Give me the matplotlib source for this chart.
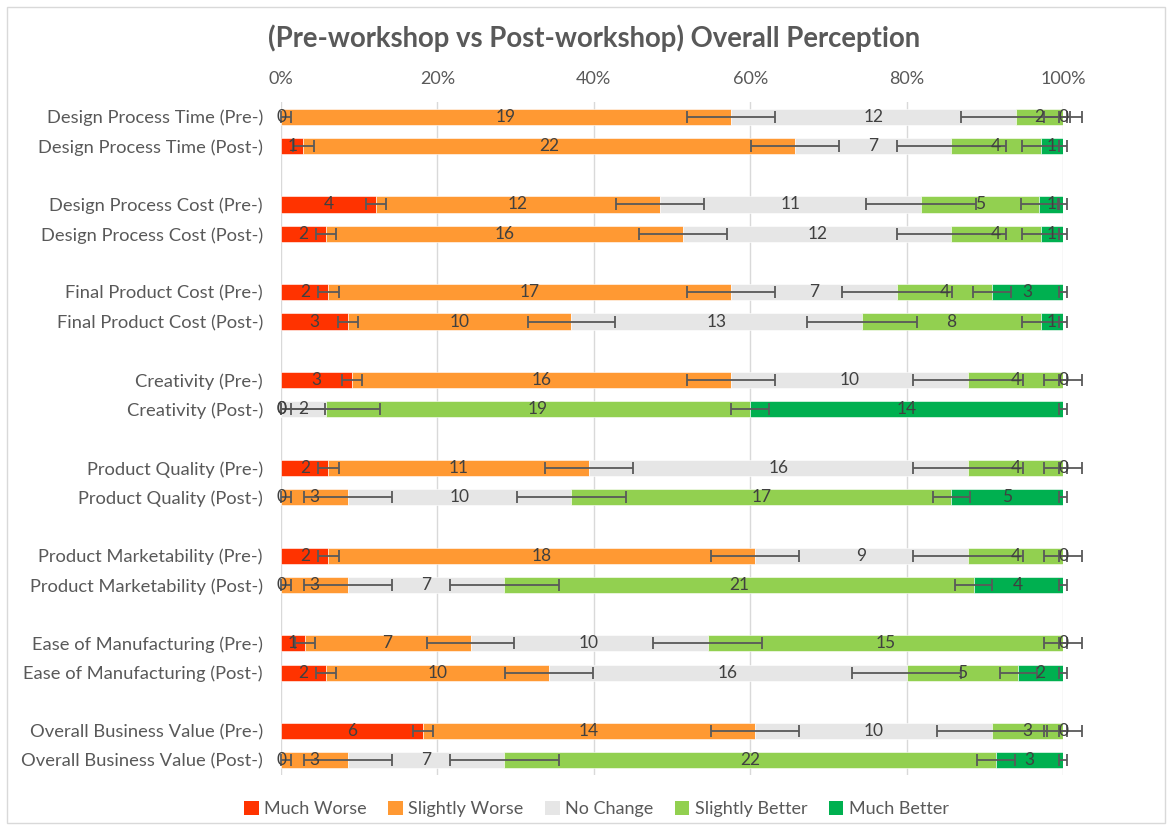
import matplotlib
matplotlib.use("Agg")
import matplotlib.pyplot as plt
from matplotlib.patches import Rectangle, Patch
import numpy as np

plt.rcParams['font.family'] = ['Lato', 'DejaVu Sans']

labels = [
    "Design Process Time (Pre-)", "Design Process Time (Post-)",
    "Design Process Cost (Pre-)", "Design Process Cost (Post-)",
    "Final Product Cost (Pre-)", "Final Product Cost (Post-)",
    "Creativity (Pre-)", "Creativity (Post-)",
    "Product Quality (Pre-)", "Product Quality (Post-)",
    "Product Marketability (Pre-)", "Product Marketability (Post-)",
    "Ease of Manufacturing (Pre-)", "Ease of Manufacturing (Post-)",
    "Overall Business Value (Pre-)", "Overall Business Value (Post-)",
]
much_worse = [0, 1, 4, 2, 2, 3, 3, 0, 2, 0, 2, 0, 1, 2, 6, 0]
slightly_worse = [19, 22, 12, 16, 17, 10, 16, 0, 11, 3, 18, 3, 7, 10, 14, 3]
no_change = [12, 7, 11, 12, 7, 13, 10, 2, 16, 10, 9, 7, 10, 16, 10, 7]
slightly_better = [2, 4, 5, 4, 4, 8, 4, 19, 4, 17, 4, 21, 15, 5, 3, 22]
much_better = [0, 1, 1, 1, 3, 1, 0, 14, 0, 5, 0, 4, 0, 2, 0, 3]
series_names = ["Much Worse", "Slightly Worse", "No Change", "Slightly Better", "Much Better"]
# error bar half-widths (percentage points), one per series
error_pct = [1.3, 5.6, 7.0, 2.4, 0.5]

colors = ["#FF3300", "#FF9933", "#E6E6E6", "#92D050", "#00B050"]
text_col = "#595959"

series = [much_worse, slightly_worse, no_change, slightly_better, much_better]
counts = np.array(series, dtype=float)
totals = counts.sum(axis=0)
pct = counts / totals * 100

n = len(labels)
pos = np.array([(i // 2) * 3 + (i % 2) for i in range(n)])

fig = plt.figure(figsize=(11.72, 8.30), dpi=100)
ax = fig.add_axes([0.2398, 0.0663, 0.9070 - 0.2398, 0.877 - 0.0663])

left = np.zeros(n)
for k in range(5):
    ax.barh(pos, pct[k], left=left, height=0.55, color=colors[k],
            edgecolor='white', linewidth=0.4, zorder=2, label=series_names[k])
    for i in range(n):
        ax.text(left[i] + pct[k][i] / 2, pos[i], str(int(counts[k][i])),
                ha='center', va='center', fontsize=12.5, color='#404040', zorder=5)
    left = left + pct[k]
    lower = np.minimum(error_pct[k], left)
    upper = np.full(n, error_pct[k])
    eb = ax.errorbar(left, pos, xerr=[lower, upper], fmt='none', ecolor='#595959',
                     elinewidth=1.3, capsize=4, capthick=1.3, zorder=4)
    for art in eb.get_children():
        art.set_clip_on(False)

ax.set_xlim(0, 100)
ax.set_ylim(22.5, -0.5)
ax.set_xticks([0, 20, 40, 60, 80, 100])
ax.set_xticklabels(["0%", "20%", "40%", "60%", "80%", "100%"])
ax.xaxis.tick_top()
ax.tick_params(axis='x', length=0, pad=11, labelsize=13, labelcolor=text_col)
ax.set_yticks(pos)
ax.set_yticklabels(labels)
ax.tick_params(axis='y', length=0, pad=13, labelsize=13.2, labelcolor=text_col)
ax.grid(axis='x', color='#D9D9D9', linewidth=1.0, zorder=0)
ax.set_axisbelow(True)
for s in ax.spines.values():
    s.set_visible(False)

fig.text(0.507, 0.954, "(Pre-workshop vs Post-workshop) Overall Perception",
         ha='center', va='center', fontsize=19.8, fontweight='bold', color=text_col)

handles = [Patch(facecolor=c, edgecolor='none') for c in colors]
fig.legend(handles, series_names, loc='center', bbox_to_anchor=(0.509, 0.025),
           ncol=5, frameon=False, fontsize=13, labelcolor=text_col,
           handlelength=0.8, handleheight=0.8, handletextpad=0.3, columnspacing=1.2)

fig.patches.append(Rectangle((0.006, 0.008), 0.988, 0.984, transform=fig.transFigure,
                             fill=False, edgecolor='#D9D9D9', linewidth=1.0))

fig.savefig("out.png", dpi=100)
